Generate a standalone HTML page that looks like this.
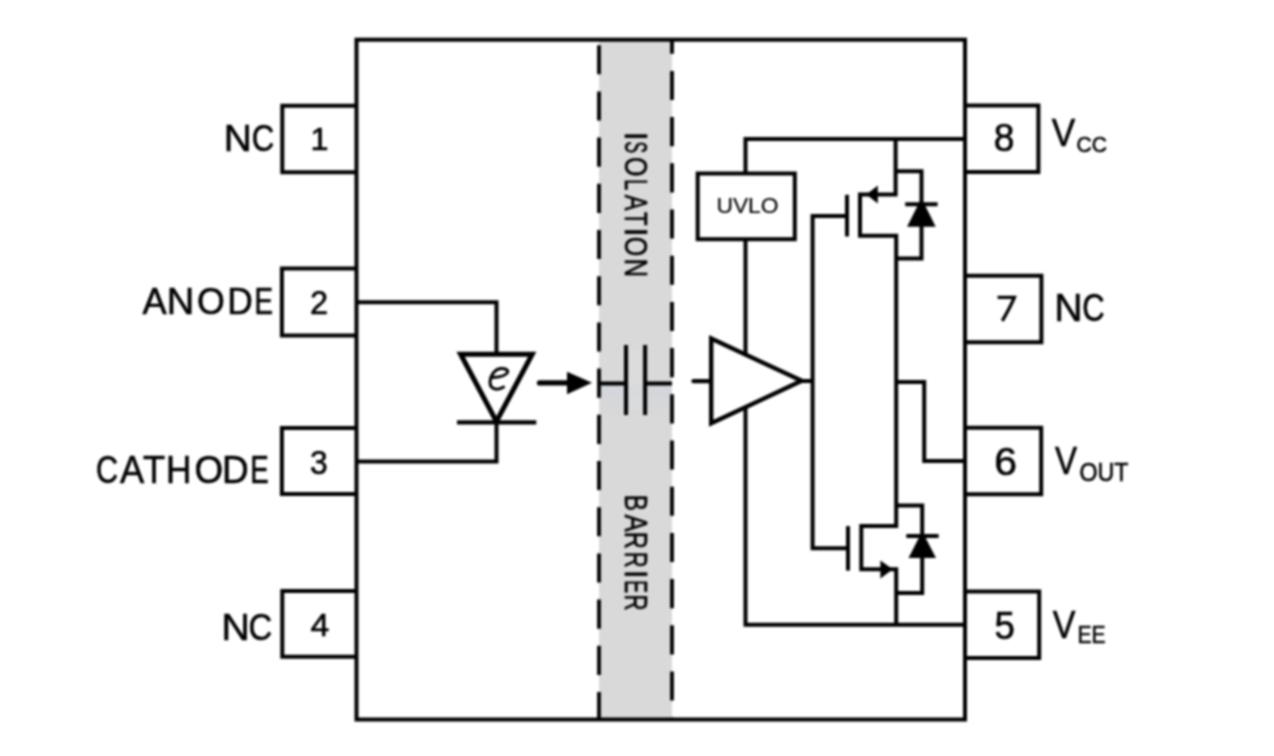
<!DOCTYPE html>
<html><head><meta charset="utf-8">
<style>
html,body{margin:0;padding:0;background:#fff;}
body{width:1274px;height:756px;overflow:hidden;}
svg{display:block;filter:blur(1px);}
text{font-family:"Liberation Sans",sans-serif;fill:#000;stroke:#000;stroke-width:0.6px;}
</style></head>
<body>
<svg width="1274" height="756" viewBox="0 0 1274 756">
<rect x="-20" y="-20" width="1314" height="796" fill="#fff"/>
<rect x="599" y="39.7" width="73" height="679.8" fill="#d9d9d9"/>
<defs><linearGradient id="glow" x1="0" y1="0" x2="0" y2="1"><stop offset="0" stop-color="#c8d0dc" stop-opacity="0.4"/><stop offset="1" stop-color="#c8d0dc" stop-opacity="0"/></linearGradient></defs>
<rect x="601" y="385.5" width="70" height="32" fill="url(#glow)"/>
<rect x="630" y="350" width="11" height="60" fill="#e2e3e6" opacity="0.35"/>
<g fill="none" stroke="#000" stroke-linecap="butt" stroke-linejoin="miter">
  <rect x="356.5" y="39.7" width="608.5" height="679.8" stroke-width="4.0"/>
  <path d="M599,45.2 V719.5" stroke-width="3.8" stroke-dasharray="29.1 17.1"/>
  <path d="M672,39.7 V719.5" stroke-width="3.8" stroke-dasharray="29.1 17.1" stroke-dashoffset="15"/>
  <g stroke-width="4.0">
    <path d="M356.5,105.7 H282.3 V172.3 H356.5"/>
    <path d="M356.5,268.5 H281.9 V335.6 H356.5"/>
    <path d="M356.5,428.1 H281.9 V493.9 H356.5"/>
    <path d="M356.5,590.9 H282.3 V656.7 H356.5"/>
    <path d="M965,105.5 H1038.4 V172.1 H965"/>
    <path d="M965,275.7 H1041.4 V342.3 H965"/>
    <path d="M965,427.7 H1041.2 V494.3 H965"/>
    <path d="M965,591.5 H1039.2 V658.1 H965"/>
  </g>
  <g stroke-width="4.0">
    <path d="M356.5,302.2 H496.5 V354"/>
    <path d="M356.5,461.5 H496.5 V422"/>
  </g>
  <path d="M460.6,354.3 H532.2 L496.4,421.5 Z" stroke-width="5"/>
  <path d="M457,422.4 H536.3" stroke-width="4.4"/>
  <path d="M539.5,382.9 H569" stroke-width="5.3" stroke-linecap="round"/>
  <path d="M599,383.4 H626 M645,383.4 H672" stroke-width="4.0"/>
  <path d="M626,345 V415 M645.1,345 V415" stroke-width="4.0"/>
  <path d="M693.5,381.1 H711" stroke-width="4.4" stroke-linecap="round"/>
  <path d="M812.3,381 H801" stroke-width="4.0"/>
  <g stroke-width="4.0">
    <path d="M965,139 H745.5 V173.5"/>
    <path d="M745.5,239.2 V624.8 H965"/>
    <rect x="697.7" y="173.5" width="97.1" height="65.7" stroke-width="4.0"/>
    <path d="M847,216.1 H812.6 V548.3 H848"/>
    <path d="M847,194.8 V236.5" stroke-width="4.0"/>
    <path d="M848,526.1 V570.6" stroke-width="4.0"/>
    <path d="M895.6,139 V194.4 H860 V235.8 H896.2 V525.9 H861.3 V569.3 H896.2 V624.8"/>
    <path d="M896,171.2 H921.5 V258.4 H896"/>
    <path d="M905.2,204.3 H937.6"/>
    <path d="M896.2,381.9 H924.2 V460.9 H965"/>
    <path d="M896.2,505.6 H922.2 V592.9 H896.2"/>
    <path d="M906.3,536.1 H938.6"/>
  </g>
</g>
<path d="M711.2,338.5 L801.7,380.8 L711.2,423.2 Z" fill="#fff" stroke="#000" stroke-width="4.4"/>
<g fill="#000" stroke="none">
  <path d="M567,371.8 L592,382.8 L567,394.3 Z"/>
  <path d="M866.3,194.4 L877.8,185.6 L877.8,203.4 Z"/>
  <path d="M892.8,569.3 L880.4,560.4 L880.4,578.6 Z"/>
  <path d="M907.1,226.8 H935.7 L921.4,198 Z"/>
  <path d="M908.5,557.9 H936 L922.2,531.2 Z"/>
</g>
<path d="M493.3,377.6 C498,377.2 505.5,376.2 507.4,372.6 C508.6,369.8 505,368.2 500.8,368.6 C494.5,369.3 490.2,375.8 490,382 C489.9,386.3 492.4,389.2 496.6,389.2 C499.2,389.2 501.6,388.4 503.6,387" fill="none" stroke="#000" stroke-width="3" stroke-linecap="round"/>
<text x="223.8" y="151.2" font-size="36.28" textLength="28.1" lengthAdjust="spacingAndGlyphs">N</text>
<text x="251.8" y="151.2" font-size="36.28" textLength="22.5" lengthAdjust="spacingAndGlyphs">C</text>
<text x="310.4" y="150.2" font-size="32.10" textLength="18.0" lengthAdjust="spacingAndGlyphs">1</text>
<text x="142.5" y="314.4" font-size="37.69" textLength="24.2" lengthAdjust="spacingAndGlyphs">A</text>
<text x="166.8" y="314.4" font-size="37.69" textLength="27.5" lengthAdjust="spacingAndGlyphs">N</text>
<text x="197.0" y="314.4" font-size="37.69" textLength="27.8" lengthAdjust="spacingAndGlyphs">O</text>
<text x="227.2" y="314.4" font-size="37.69" textLength="25.5" lengthAdjust="spacingAndGlyphs">D</text>
<text x="254.5" y="314.4" font-size="37.69" textLength="18.5" lengthAdjust="spacingAndGlyphs">E</text>
<text x="310.0" y="313.8" font-size="33.50" textLength="18.1" lengthAdjust="spacingAndGlyphs">2</text>
<text x="95.9" y="483.2" font-size="38.22" textLength="22.1" lengthAdjust="spacingAndGlyphs">C</text>
<text x="120.0" y="483.2" font-size="38.22" textLength="24.2" lengthAdjust="spacingAndGlyphs">A</text>
<text x="143.0" y="483.2" font-size="38.22" textLength="22.1" lengthAdjust="spacingAndGlyphs">T</text>
<text x="166.0" y="483.2" font-size="38.22" textLength="25.4" lengthAdjust="spacingAndGlyphs">H</text>
<text x="194.6" y="483.2" font-size="38.22" textLength="28.6" lengthAdjust="spacingAndGlyphs">O</text>
<text x="222.0" y="483.2" font-size="38.22" textLength="26.7" lengthAdjust="spacingAndGlyphs">D</text>
<text x="250.3" y="483.2" font-size="38.22" textLength="18.5" lengthAdjust="spacingAndGlyphs">E</text>
<text x="310.0" y="474.0" font-size="33.50" textLength="17.7" lengthAdjust="spacingAndGlyphs">3</text>
<text x="221.4" y="639.8" font-size="37.69" textLength="28.4" lengthAdjust="spacingAndGlyphs">N</text>
<text x="248.6" y="639.8" font-size="37.69" textLength="23.7" lengthAdjust="spacingAndGlyphs">C</text>
<text x="310.4" y="636.2" font-size="31.42" textLength="18.8" lengthAdjust="spacingAndGlyphs">4</text>
<text x="993.8" y="151.4" font-size="38.41" textLength="20.7" lengthAdjust="spacingAndGlyphs">8</text>
<text x="1051.8" y="146.0" font-size="37.92" textLength="23.5" lengthAdjust="spacingAndGlyphs">V</text>
<text x="1076.6" y="151.8" font-size="22.81" textLength="30.5" lengthAdjust="spacingAndGlyphs">CC</text>
<path d="M997.6,297.4 H1014.4 Q1010.6,306.5 1002.3,320.9" fill="none" stroke="#000" stroke-width="3.3" stroke-linejoin="miter"/>
<text x="1054.4" y="321.2" font-size="37.92" textLength="28.0" lengthAdjust="spacingAndGlyphs">N</text>
<text x="1082.3" y="321.2" font-size="37.92" textLength="22.4" lengthAdjust="spacingAndGlyphs">C</text>
<text x="994.2" y="474.6" font-size="37.98" textLength="22.8" lengthAdjust="spacingAndGlyphs">6</text>
<text x="1055.0" y="474.0" font-size="38.27" textLength="22.1" lengthAdjust="spacingAndGlyphs">V</text>
<text x="1079.6" y="480.8" font-size="25.70" textLength="48.9" lengthAdjust="spacingAndGlyphs">OUT</text>
<text x="994.4" y="638.8" font-size="37.98" textLength="20.4" lengthAdjust="spacingAndGlyphs">5</text>
<text x="1052.8" y="637.8" font-size="38.55" textLength="22.7" lengthAdjust="spacingAndGlyphs">V</text>
<text x="1077.4" y="643.4" font-size="24.27" textLength="28.1" lengthAdjust="spacingAndGlyphs">EE</text>
<text style="stroke-width:0.15px" x="716.4" y="213.0" font-size="22.88" textLength="62.2" lengthAdjust="spacingAndGlyphs">UVLO</text>
<text transform="translate(625.2,131.7) rotate(90)" font-size="31.82">I</text>
<text transform="translate(625.2,141.5) rotate(90)" font-size="31.82" textLength="11.5" lengthAdjust="spacingAndGlyphs">S</text>
<text transform="translate(625.2,157.0) rotate(90)" font-size="31.82" textLength="19.4" lengthAdjust="spacingAndGlyphs">O</text>
<text transform="translate(625.2,178.9) rotate(90)" font-size="31.82" textLength="11.2" lengthAdjust="spacingAndGlyphs">L</text>
<text transform="translate(625.2,194.7) rotate(90)" font-size="31.82" textLength="15.8" lengthAdjust="spacingAndGlyphs">A</text>
<text transform="translate(625.2,212.1) rotate(90)" font-size="31.82" textLength="13.5" lengthAdjust="spacingAndGlyphs">T</text>
<text transform="translate(625.2,227.5) rotate(90)" font-size="31.82">I</text>
<text transform="translate(625.2,236.7) rotate(90)" font-size="31.82" textLength="19.5" lengthAdjust="spacingAndGlyphs">O</text>
<text transform="translate(625.2,258.8) rotate(90)" font-size="31.82" textLength="18.4" lengthAdjust="spacingAndGlyphs">N</text>
<text transform="translate(625.0,494.7) rotate(90)" font-size="30.69" textLength="16.2" lengthAdjust="spacingAndGlyphs">B</text>
<text transform="translate(625.0,514.4) rotate(90)" font-size="30.69" textLength="17.2" lengthAdjust="spacingAndGlyphs">A</text>
<text transform="translate(625.0,531.7) rotate(90)" font-size="30.69" textLength="17.1" lengthAdjust="spacingAndGlyphs">R</text>
<text transform="translate(625.0,551.9) rotate(90)" font-size="30.69" textLength="15.7" lengthAdjust="spacingAndGlyphs">R</text>
<text transform="translate(625.0,570.1) rotate(90)" font-size="30.69">I</text>
<text transform="translate(625.0,580.2) rotate(90)" font-size="30.69" textLength="12.8" lengthAdjust="spacingAndGlyphs">E</text>
<text transform="translate(625.0,594.4) rotate(90)" font-size="30.69" textLength="16.1" lengthAdjust="spacingAndGlyphs">R</text>
</svg>
</body></html>
